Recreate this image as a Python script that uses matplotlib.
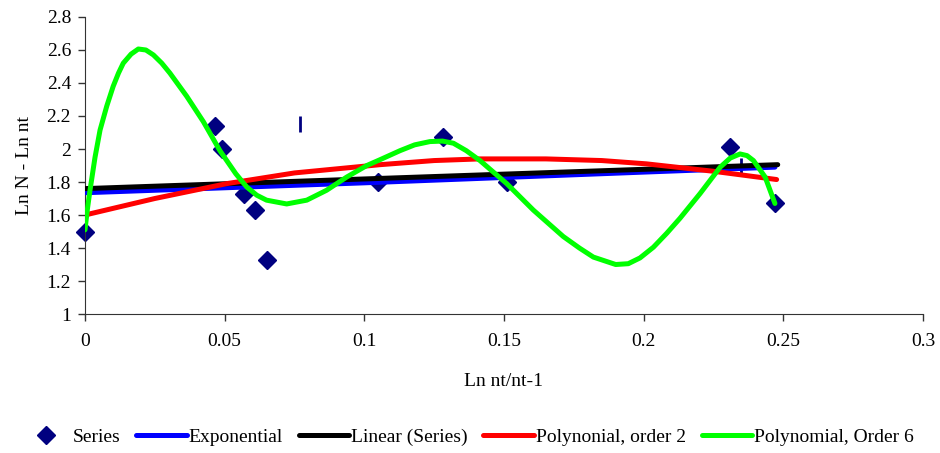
import matplotlib
matplotlib.use("Agg")
import matplotlib.pyplot as plt

plt.rcParams["font.family"] = ["Liberation Serif", "DejaVu Serif"]

# observed points
series_x = [0.0, 0.0465, 0.049, 0.057, 0.061, 0.065, 0.105, 0.128, 0.151, 0.231, 0.247]
series_y = [1.50, 2.14, 2.00, 1.73, 1.63, 1.33, 1.80, 2.07, 1.80, 2.01, 1.67]

# thin vertical marks drawn in the series colour
mark_x = [0.077, 0.235]
mark_y = [2.15, 1.90]

# trend lines
exp_x = [0.0, 0.1, 0.2, 0.247]
exp_y = [1.735, 1.795, 1.86, 1.89]

lin_x = [0.0, 0.248]
lin_y = [1.76, 1.905]

poly2_x = [0.0, 0.025, 0.0507, 0.075, 0.1056, 0.125, 0.1414, 0.165, 0.185, 0.201, 0.225, 0.2476]
poly2_y = [1.60, 1.70, 1.79, 1.855, 1.905, 1.93, 1.94, 1.94, 1.93, 1.91, 1.865, 1.815]

poly6_x = [0.0, 0.0009, 0.0018, 0.0036, 0.0054, 0.0078, 0.0101, 0.0120, 0.0137, 0.0165,
           0.0191, 0.0218, 0.0245, 0.0275, 0.0304, 0.0364, 0.0424, 0.0483, 0.0540, 0.0579,
           0.0615, 0.065, 0.0722, 0.0794, 0.0865, 0.0937, 0.1009, 0.1056, 0.1128, 0.1180,
           0.1235, 0.1280, 0.1319, 0.1365, 0.1414, 0.151, 0.1605, 0.1712, 0.1770, 0.182,
           0.190, 0.1945, 0.1987, 0.2035, 0.2083, 0.213, 0.2202, 0.2274, 0.2310, 0.2345,
           0.2370, 0.2393, 0.2435, 0.2470]
poly6_y = [1.51, 1.64, 1.75, 1.95, 2.115, 2.26, 2.38, 2.46, 2.52, 2.575,
           2.606, 2.60, 2.57, 2.52, 2.46, 2.32, 2.165, 1.99, 1.85, 1.77,
           1.72, 1.69, 1.667, 1.69, 1.75, 1.83, 1.90, 1.935, 1.99, 2.025,
           2.045, 2.048, 2.035, 1.99, 1.93, 1.79, 1.63, 1.47, 1.40, 1.345,
           1.30, 1.305, 1.34, 1.405, 1.49, 1.58, 1.73, 1.89, 1.945, 1.97,
           1.96, 1.93, 1.83, 1.67]

x_ticks = [0, 0.05, 0.1, 0.15, 0.2, 0.25, 0.3]
x_tick_labels = ["0", "0.05", "0.1", "0.15", "0.2", "0.25", "0.3"]
y_ticks = [1, 1.2, 1.4, 1.6, 1.8, 2, 2.2, 2.4, 2.6, 2.8]
y_tick_labels = ["1", "1.2", "1.4", "1.6", "1.8", "2", "2.2", "2.4", "2.6", "2.8"]

navy = "#000080"
fs = 14

fig = plt.figure(figsize=(9.4, 4.53), dpi=100)
ax = fig.add_axes([0.0904, 0.3068, 0.8915, 0.6557])

line_kw = dict(linewidth=3.6, solid_joinstyle="round", solid_capstyle="round")

ax.plot(series_x, series_y, linestyle="none", marker="D", markersize=9,
        color=navy, label="Series", zorder=2, clip_on=False)
ax.plot(mark_x, mark_y, linestyle="none", marker="|", markersize=11,
        markeredgewidth=2, color=navy, zorder=2)
ax.plot(exp_x, exp_y, color="#0000FF", label="Exponential", zorder=3, **line_kw)
ax.plot(lin_x, lin_y, color="black", label="Linear (Series)", zorder=3, **line_kw)
ax.plot(poly2_x, poly2_y, color="#FF0000", label="Polynonial, order 2", zorder=4, **line_kw)
ax.plot(poly6_x, poly6_y, color="#00FF00", label="Polynomial, Order 6", zorder=5, **line_kw)

ax.set_xlim(0, 0.3)
ax.set_ylim(1, 2.8)
ax.set_xticks(x_ticks)
ax.set_xticklabels(x_tick_labels)
ax.set_yticks(y_ticks)
ax.set_yticklabels(y_tick_labels)
ax.tick_params(labelsize=fs, length=5, width=1, direction="out", pad=5)
ax.tick_params(axis="x", pad=9)
ax.spines["top"].set_visible(False)
ax.spines["right"].set_visible(False)
for side in ("left", "bottom"):
    ax.spines[side].set_color("#333333")
ax.tick_params(color="#333333")

ax.set_xlabel("Ln nt/nt-1", fontsize=fs, labelpad=16)
ax.set_ylabel("Ln N - Ln nt", fontsize=fs, labelpad=10)

handles, labels = ax.get_legend_handles_labels()
fig.legend(handles, labels, loc="center", bbox_to_anchor=(0.497, 0.035), ncol=5,
           frameon=False, fontsize=fs, handlelength=2.6, handletextpad=0.1,
           columnspacing=0.8)

fig.savefig("out.png", dpi=100)
